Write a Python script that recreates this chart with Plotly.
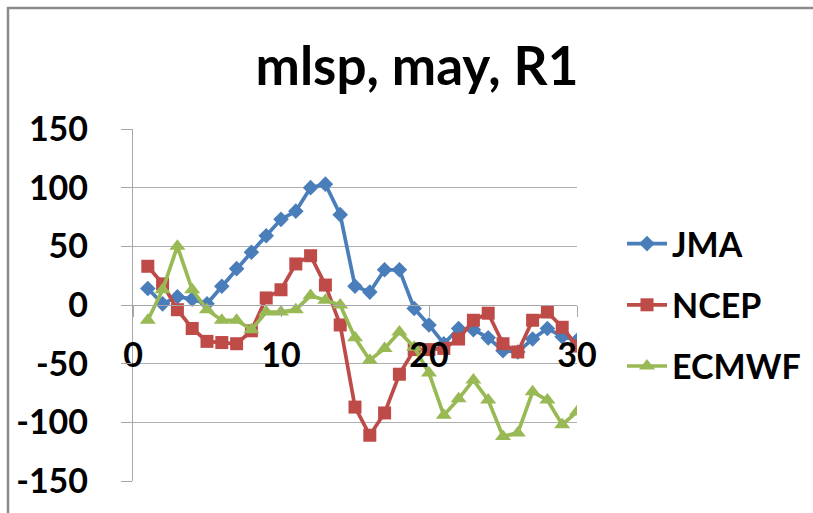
import plotly.graph_objects as go

days = list(range(1, 31))
jma = [14, 1, 7, 5, 1, 16, 31, 45, 59, 73, 80, 100, 103, 77, 16, 11, 30, 30, -3, -17,
       -33, -20, -21, -28, -39, -40, -29, -20, -27, -30]
ncep = [33, 18, -4, -20, -31, -32, -33, -22, 6, 13, 35, 42, 17, -17, -87, -111, -92, -59, -38, -38,
        -37, -29, -13, -7, -33, -40, -13, -6, -19, -35]
ecmwf = [-13, 13, 50, 13, -4, -13, -13, -21, -6, -6, -4, 8, 4, 0, -28, -47, -37, -23, -36, -58,
         -94, -80, -64, -81, -112, -109, -74, -81, -102, -91]
x_ticks = [0, 10, 20, 30]
y_ticks = [-150, -100, -50, 0, 50, 100, 150]

FONT = "Lato"
series = [
    ("JMA", jma, "#4A7EBB", "diamond", 12),
    ("NCEP", ncep, "#BE4B48", "square", 13),
    ("ECMWF", ecmwf, "#98B954", "triangle-up", 14),
]

fig = go.Figure()
for name, vals, col, sym, sz in series:
    fig.add_trace(go.Scatter(
        x=days, y=vals, name=name, mode="lines+markers", legendgroup=name,
        line=dict(color=col, width=3.7),
        marker=dict(symbol=sym, size=sz, color=col, line=dict(width=0)),
    ))

fig.update_layout(
    width=813, height=513,
    paper_bgcolor="white", plot_bgcolor="white",
    margin=dict(l=133, r=236, t=129, b=32, autoexpand=False),
    title=dict(text="mlsp, may, R1", x=(417 - 133) / 444, xref="paper", xanchor="center",
               y=1 - 66 / 513, yref="container", yanchor="middle",
               font=dict(family=FONT, size=53, color="black", weight=700)),
    font=dict(family=FONT, color="black"),
    showlegend=True,
    legend=dict(x=(622 - 133) / 444, xanchor="left", y=0.5, yanchor="middle",
                font=dict(family=FONT, size=34, color="black", weight=700),
                tracegroupgap=14, bgcolor="rgba(0,0,0,0)", itemwidth=40),
    xaxis=dict(range=[0, 30], tickvals=x_ticks, ticktext=[str(v) for v in x_ticks],
               anchor="free", position=0.5, showgrid=False, zeroline=False,
               showline=True, linecolor="#A6A6A6", linewidth=1.3,
               ticks="outside", ticklen=11, tickcolor="#A6A6A6", tickwidth=1.3,
               ticklabelstandoff=9,
               tickfont=dict(family=FONT, size=34, color="black", weight=700)),
    yaxis=dict(range=[-150, 150], tickvals=y_ticks, ticktext=[str(v) for v in y_ticks],
               showgrid=True, gridcolor="#AFAFAF", gridwidth=1.3, zeroline=False,
               showline=True, linecolor="#A6A6A6", linewidth=1.3,
               ticks="outside", ticklen=11, tickcolor="#A6A6A6", tickwidth=1.3,
               ticklabelstandoff=26,
               tickfont=dict(family=FONT, size=34, color="black", weight=700)),
    shapes=[dict(type="rect", xref="paper", yref="paper",
                 x0=(8 - 133) / 444, x1=1.8, y0=-0.3, y1=1 + (129 - 8) / 352,
                 line=dict(color="#8C8C8C", width=2.5), fillcolor="rgba(0,0,0,0)", layer="below")],
)

fig.write_html("out.html", config={"displayModeBar": False},
               post_script="document.body.style.margin='0';document.body.style.overflow='hidden';")
